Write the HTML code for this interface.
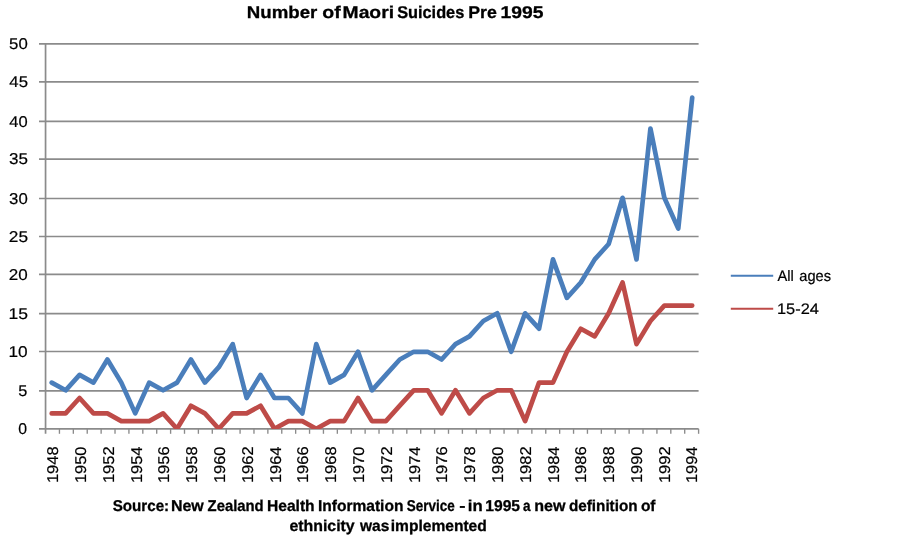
<!DOCTYPE html>
<html lang="en"><head><meta charset="utf-8"><title>Number of Maori Suicides Pre 1995</title>
<style>html,body{margin:0;padding:0;background:#fff}body{width:902px;height:540px;overflow:hidden}svg{display:block;will-change:transform}text{font-family:"Liberation Sans",sans-serif;fill:#000;text-rendering:geometricPrecision}.b{font-weight:bold;stroke:#000;stroke-width:.3px}.r{stroke:#000;stroke-width:.2px}</style></head><body>
<svg width="902" height="540" viewBox="0 0 902 540">
<g stroke="#8b8b8b" stroke-width="1.7" fill="none">
<line x1="39" y1="428.80" x2="698.60" y2="428.80"/>
<line x1="39" y1="390.90" x2="698.60" y2="390.90"/>
<line x1="39" y1="351.50" x2="698.60" y2="351.50"/>
<line x1="39" y1="313.70" x2="698.60" y2="313.70"/>
<line x1="39" y1="274.40" x2="698.60" y2="274.40"/>
<line x1="39" y1="236.50" x2="698.60" y2="236.50"/>
<line x1="39" y1="198.50" x2="698.60" y2="198.50"/>
<line x1="39" y1="159.05" x2="698.60" y2="159.05"/>
<line x1="39" y1="121.30" x2="698.60" y2="121.30"/>
<line x1="39" y1="81.90" x2="698.60" y2="81.90"/>
<line x1="39" y1="43.80" x2="698.60" y2="43.80"/>
<line x1="45.55" y1="43.80" x2="45.55" y2="433.80"/>
</g>
<g stroke="#8b8b8b" stroke-width="1.35" fill="none">
<line x1="59.44" y1="428.80" x2="59.44" y2="433.80"/>
<line x1="73.34" y1="428.80" x2="73.34" y2="433.80"/>
<line x1="87.23" y1="428.80" x2="87.23" y2="433.80"/>
<line x1="101.13" y1="428.80" x2="101.13" y2="433.80"/>
<line x1="115.02" y1="428.80" x2="115.02" y2="433.80"/>
<line x1="128.92" y1="428.80" x2="128.92" y2="433.80"/>
<line x1="142.81" y1="428.80" x2="142.81" y2="433.80"/>
<line x1="156.71" y1="428.80" x2="156.71" y2="433.80"/>
<line x1="170.60" y1="428.80" x2="170.60" y2="433.80"/>
<line x1="184.50" y1="428.80" x2="184.50" y2="433.80"/>
<line x1="198.39" y1="428.80" x2="198.39" y2="433.80"/>
<line x1="212.29" y1="428.80" x2="212.29" y2="433.80"/>
<line x1="226.18" y1="428.80" x2="226.18" y2="433.80"/>
<line x1="240.08" y1="428.80" x2="240.08" y2="433.80"/>
<line x1="253.97" y1="428.80" x2="253.97" y2="433.80"/>
<line x1="267.86" y1="428.80" x2="267.86" y2="433.80"/>
<line x1="281.76" y1="428.80" x2="281.76" y2="433.80"/>
<line x1="295.65" y1="428.80" x2="295.65" y2="433.80"/>
<line x1="309.55" y1="428.80" x2="309.55" y2="433.80"/>
<line x1="323.44" y1="428.80" x2="323.44" y2="433.80"/>
<line x1="337.34" y1="428.80" x2="337.34" y2="433.80"/>
<line x1="351.23" y1="428.80" x2="351.23" y2="433.80"/>
<line x1="365.13" y1="428.80" x2="365.13" y2="433.80"/>
<line x1="379.02" y1="428.80" x2="379.02" y2="433.80"/>
<line x1="392.92" y1="428.80" x2="392.92" y2="433.80"/>
<line x1="406.81" y1="428.80" x2="406.81" y2="433.80"/>
<line x1="420.71" y1="428.80" x2="420.71" y2="433.80"/>
<line x1="434.60" y1="428.80" x2="434.60" y2="433.80"/>
<line x1="448.50" y1="428.80" x2="448.50" y2="433.80"/>
<line x1="462.39" y1="428.80" x2="462.39" y2="433.80"/>
<line x1="476.29" y1="428.80" x2="476.29" y2="433.80"/>
<line x1="490.18" y1="428.80" x2="490.18" y2="433.80"/>
<line x1="504.07" y1="428.80" x2="504.07" y2="433.80"/>
<line x1="517.97" y1="428.80" x2="517.97" y2="433.80"/>
<line x1="531.86" y1="428.80" x2="531.86" y2="433.80"/>
<line x1="545.76" y1="428.80" x2="545.76" y2="433.80"/>
<line x1="559.65" y1="428.80" x2="559.65" y2="433.80"/>
<line x1="573.55" y1="428.80" x2="573.55" y2="433.80"/>
<line x1="587.44" y1="428.80" x2="587.44" y2="433.80"/>
<line x1="601.34" y1="428.80" x2="601.34" y2="433.80"/>
<line x1="615.23" y1="428.80" x2="615.23" y2="433.80"/>
<line x1="629.13" y1="428.80" x2="629.13" y2="433.80"/>
<line x1="643.02" y1="428.80" x2="643.02" y2="433.80"/>
<line x1="656.92" y1="428.80" x2="656.92" y2="433.80"/>
<line x1="670.81" y1="428.80" x2="670.81" y2="433.80"/>
<line x1="684.71" y1="428.80" x2="684.71" y2="433.80"/>
<line x1="698.60" y1="428.80" x2="698.60" y2="433.80"/>
</g>
<clipPath id="pa"><rect x="45.55" y="37.80" width="653.05" height="391.30"/></clipPath>
<g clip-path="url(#pa)">
<polyline points="51.70,382.60 65.62,390.30 79.55,374.90 93.47,382.60 107.40,359.50 121.32,382.60 135.24,413.40 149.17,382.60 163.09,390.30 177.02,382.60 190.94,359.50 204.86,382.60 218.79,367.20 232.71,344.10 246.63,398.00 260.56,374.90 274.48,398.00 288.41,398.00 302.33,413.40 316.25,344.10 330.18,382.60 344.10,374.90 358.03,351.80 371.95,390.30 385.87,374.90 399.80,359.50 413.72,351.80 427.65,351.80 441.57,359.50 455.49,344.10 469.42,336.40 483.34,321.00 497.27,313.30 511.19,351.80 525.11,313.30 539.04,328.70 552.96,259.40 566.88,297.90 580.81,282.50 594.73,259.40 608.66,244.00 622.58,197.80 636.50,259.40 650.43,128.50 664.35,197.80 678.28,228.60 692.20,97.70" fill="none" stroke="#4A7EBB" stroke-width="4.70" stroke-linejoin="round" stroke-linecap="round"/>
<polyline points="51.70,413.40 65.62,413.40 79.55,398.00 93.47,413.40 107.40,413.40 121.32,421.10 135.24,421.10 149.17,421.10 163.09,413.40 177.02,428.80 190.94,405.70 204.86,413.40 218.79,428.80 232.71,413.40 246.63,413.40 260.56,405.70 274.48,428.80 288.41,421.10 302.33,421.10 316.25,428.80 330.18,421.10 344.10,421.10 358.03,398.00 371.95,421.10 385.87,421.10 399.80,405.70 413.72,390.30 427.65,390.30 441.57,413.40 455.49,390.30 469.42,413.40 483.34,398.00 497.27,390.30 511.19,390.30 525.11,421.10 539.04,382.60 552.96,382.60 566.88,351.80 580.81,328.70 594.73,336.40 608.66,313.30 622.58,282.50 636.50,344.10 650.43,321.00 664.35,305.60 678.28,305.60 692.20,305.60" fill="none" stroke="#BE4B48" stroke-width="4.70" stroke-linejoin="round" stroke-linecap="round"/>
</g>
<g class="r" font-size="15.6">
<text x="18.21" y="434.10" textLength="8.79" lengthAdjust="spacingAndGlyphs">0</text>
<text x="18.19" y="396.20" textLength="9.07" lengthAdjust="spacingAndGlyphs">5</text>
<text x="8.52" y="356.80" textLength="19.21" lengthAdjust="spacingAndGlyphs">10</text>
<text x="8.50" y="319.00" textLength="19.51" lengthAdjust="spacingAndGlyphs">15</text>
<text x="8.80" y="279.70" textLength="18.92" lengthAdjust="spacingAndGlyphs">20</text>
<text x="8.79" y="241.80" textLength="19.21" lengthAdjust="spacingAndGlyphs">25</text>
<text x="9.08" y="203.80" textLength="18.64" lengthAdjust="spacingAndGlyphs">30</text>
<text x="9.07" y="164.35" textLength="18.92" lengthAdjust="spacingAndGlyphs">35</text>
<text x="9.34" y="126.60" textLength="18.37" lengthAdjust="spacingAndGlyphs">40</text>
<text x="9.34" y="87.20" textLength="18.64" lengthAdjust="spacingAndGlyphs">45</text>
<text x="9.08" y="49.10" textLength="18.64" lengthAdjust="spacingAndGlyphs">50</text>
</g>
<g class="r" font-size="15.6">
<text transform="translate(58.30,482.1) rotate(-90)" x="-1.03" textLength="36.80" lengthAdjust="spacingAndGlyphs">1948</text>
<text transform="translate(86.09,482.1) rotate(-90)" x="-1.03" textLength="36.54" lengthAdjust="spacingAndGlyphs">1950</text>
<text transform="translate(113.88,482.1) rotate(-90)" x="-1.03" textLength="36.80" lengthAdjust="spacingAndGlyphs">1952</text>
<text transform="translate(141.67,482.1) rotate(-90)" x="-1.03" textLength="36.54" lengthAdjust="spacingAndGlyphs">1954</text>
<text transform="translate(169.45,482.1) rotate(-90)" x="-1.03" textLength="36.80" lengthAdjust="spacingAndGlyphs">1956</text>
<text transform="translate(197.24,482.1) rotate(-90)" x="-1.03" textLength="36.80" lengthAdjust="spacingAndGlyphs">1958</text>
<text transform="translate(225.03,482.1) rotate(-90)" x="-1.03" textLength="36.54" lengthAdjust="spacingAndGlyphs">1960</text>
<text transform="translate(252.82,482.1) rotate(-90)" x="-1.03" textLength="36.80" lengthAdjust="spacingAndGlyphs">1962</text>
<text transform="translate(280.61,482.1) rotate(-90)" x="-1.03" textLength="36.54" lengthAdjust="spacingAndGlyphs">1964</text>
<text transform="translate(308.40,482.1) rotate(-90)" x="-1.03" textLength="36.80" lengthAdjust="spacingAndGlyphs">1966</text>
<text transform="translate(336.19,482.1) rotate(-90)" x="-1.03" textLength="36.80" lengthAdjust="spacingAndGlyphs">1968</text>
<text transform="translate(363.98,482.1) rotate(-90)" x="-1.03" textLength="36.54" lengthAdjust="spacingAndGlyphs">1970</text>
<text transform="translate(391.77,482.1) rotate(-90)" x="-1.03" textLength="36.80" lengthAdjust="spacingAndGlyphs">1972</text>
<text transform="translate(419.56,482.1) rotate(-90)" x="-1.03" textLength="36.54" lengthAdjust="spacingAndGlyphs">1974</text>
<text transform="translate(447.35,482.1) rotate(-90)" x="-1.03" textLength="36.80" lengthAdjust="spacingAndGlyphs">1976</text>
<text transform="translate(475.14,482.1) rotate(-90)" x="-1.03" textLength="36.80" lengthAdjust="spacingAndGlyphs">1978</text>
<text transform="translate(502.93,482.1) rotate(-90)" x="-1.03" textLength="36.54" lengthAdjust="spacingAndGlyphs">1980</text>
<text transform="translate(530.72,482.1) rotate(-90)" x="-1.03" textLength="36.80" lengthAdjust="spacingAndGlyphs">1982</text>
<text transform="translate(558.51,482.1) rotate(-90)" x="-1.03" textLength="36.54" lengthAdjust="spacingAndGlyphs">1984</text>
<text transform="translate(586.30,482.1) rotate(-90)" x="-1.03" textLength="36.80" lengthAdjust="spacingAndGlyphs">1986</text>
<text transform="translate(614.08,482.1) rotate(-90)" x="-1.03" textLength="36.80" lengthAdjust="spacingAndGlyphs">1988</text>
<text transform="translate(641.87,482.1) rotate(-90)" x="-1.03" textLength="36.54" lengthAdjust="spacingAndGlyphs">1990</text>
<text transform="translate(669.66,482.1) rotate(-90)" x="-1.03" textLength="36.80" lengthAdjust="spacingAndGlyphs">1992</text>
<text transform="translate(697.45,482.1) rotate(-90)" x="-1.03" textLength="36.54" lengthAdjust="spacingAndGlyphs">1994</text>
</g>
<text class="b" font-size="17.0" y="18.25"><tspan x="246.83" textLength="70.53" lengthAdjust="spacingAndGlyphs">Number</tspan> <tspan x="322.39" textLength="18.40" lengthAdjust="spacingAndGlyphs">of</tspan> <tspan x="342.59" textLength="51.45" lengthAdjust="spacingAndGlyphs">Maori</tspan> <tspan x="397.15" textLength="67.12" lengthAdjust="spacingAndGlyphs">Suicides</tspan> <tspan x="468.19" textLength="28.65" lengthAdjust="spacingAndGlyphs">Pre</tspan> <tspan x="500.60" textLength="42.88" lengthAdjust="spacingAndGlyphs">1995</tspan></text>
<text class="b" font-size="15.6" y="511.00"><tspan x="112.76" textLength="56.39" lengthAdjust="spacingAndGlyphs">Source:</tspan> <tspan x="170.90" textLength="32.84" lengthAdjust="spacingAndGlyphs">New</tspan> <tspan x="207.57" textLength="56.08" lengthAdjust="spacingAndGlyphs">Zealand</tspan> <tspan x="267.03" textLength="47.63" lengthAdjust="spacingAndGlyphs">Health</tspan> <tspan x="317.93" textLength="85.52" lengthAdjust="spacingAndGlyphs">Information</tspan> <tspan x="406.79" textLength="47.84" lengthAdjust="spacingAndGlyphs">Service</tspan> <tspan x="459.31" textLength="6.27" lengthAdjust="spacingAndGlyphs">-</tspan> <tspan x="467.76" textLength="14.85" lengthAdjust="spacingAndGlyphs">in</tspan> <tspan x="485.22" textLength="34.87" lengthAdjust="spacingAndGlyphs">1995</tspan> <tspan x="523.09" textLength="7.53" lengthAdjust="spacingAndGlyphs">a</tspan> <tspan x="534.30" textLength="31.25" lengthAdjust="spacingAndGlyphs">new</tspan> <tspan x="569.02" textLength="68.51" lengthAdjust="spacingAndGlyphs">definition</tspan> <tspan x="640.92" textLength="14.62" lengthAdjust="spacingAndGlyphs">of</tspan></text>
<text class="b" font-size="15.6" y="530.90"><tspan x="289.40" textLength="65.30" lengthAdjust="spacingAndGlyphs">ethnicity</tspan> <tspan x="360.04" textLength="29.29" lengthAdjust="spacingAndGlyphs">was</tspan> <tspan x="390.73" textLength="96.07" lengthAdjust="spacingAndGlyphs">implemented</tspan></text>
<line x1="730.8" y1="275.8" x2="773.2" y2="275.8" stroke="#4A7EBB" stroke-width="2"/>
<line x1="730.8" y1="308.7" x2="773.2" y2="308.7" stroke="#BE4B48" stroke-width="2"/>
<text class="r" font-size="15.2" y="280.80"><tspan x="777.40" textLength="16.37" lengthAdjust="spacingAndGlyphs">All</tspan> <tspan x="799.34" textLength="31.71" lengthAdjust="spacingAndGlyphs">ages</tspan></text>
<text class="r" font-size="15.2" y="313.70"><tspan x="776.98" textLength="41.93" lengthAdjust="spacingAndGlyphs">15-24</tspan></text>
</svg></body></html>
